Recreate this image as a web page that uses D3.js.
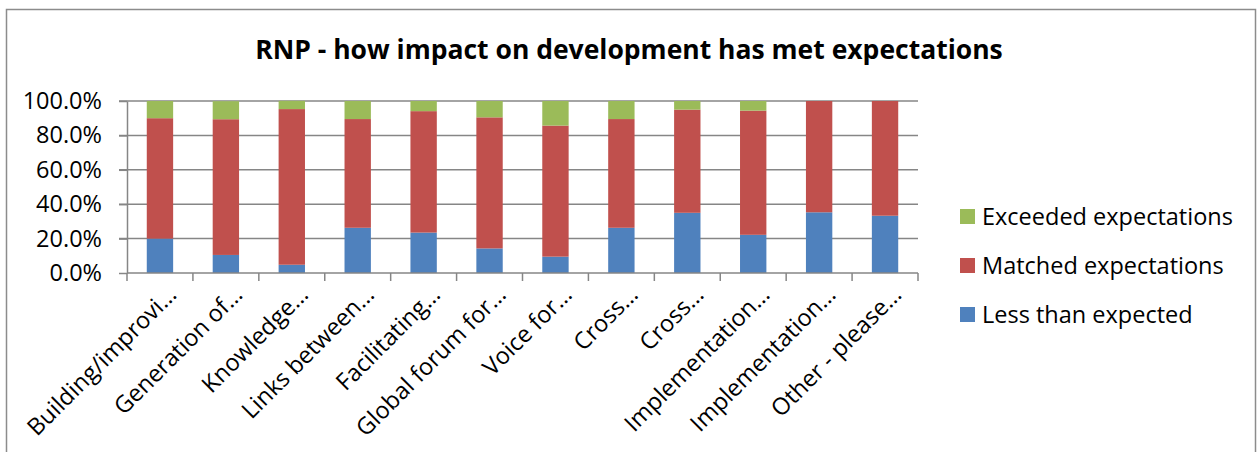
<!DOCTYPE html>
<html>
<head>
<meta charset="utf-8">
<script src="https://cdn.jsdelivr.net/npm/d3@7"></script>
<style>
  body { margin: 0; background: #fff; }
  svg { display: block; font-family: "Open Sans", sans-serif; }
</style>
</head>
<body>
<svg id="chart" width="1258" height="452"></svg>
<script>
const categories = [
  'Building/improvi…', 'Generation of…', 'Knowledge…', 'Links between…',
  'Facilitating…', 'Global forum for…', 'Voice for…', 'Cross…',
  'Cross…', 'Implementation…', 'Implementation…', 'Other - please…'
];
const lessThan = [20.0, 10.5, 4.8, 26.3, 23.5, 14.3, 9.5, 26.3, 35.0, 22.2, 35.3, 33.3];
const matched = [70.0, 78.9, 90.5, 63.2, 70.6, 76.2, 76.2, 63.2, 60.0, 72.2, 64.7, 66.7];
const exceeded = [10.0, 10.5, 4.8, 10.5, 5.9, 9.5, 14.3, 10.5, 5.0, 5.6, 0, 0];
const seriesNames = ['Less than expected', 'Matched expectations', 'Exceeded expectations'];
const yTicks = [0, 20, 40, 60, 80, 100];

const colors = ['#4f81bd', '#c0504d', '#9bbb59'];
const fontSize = '23.5px';
const svg = d3.select('#chart');

// outer chart border
svg.append('rect')
  .attr('x', 6.5).attr('y', 9.5)
  .attr('width', 1249).attr('height', 460)
  .attr('fill', 'none').attr('stroke', '#8c8c8c').attr('stroke-width', 1.5);

svg.append('text')
  .text('RNP - how impact on development has met expectations')
  .attr('x', 629).attr('y', 59)
  .attr('text-anchor', 'middle')
  .style('font-size', '26.5px').style('font-weight', 'bold').style('fill', '#000');

const x = d3.scaleBand().domain(categories.map((c, i) => i))
  .range([127, 918]).paddingInner(0.6).paddingOuter(0.3);
const y = d3.scaleLinear().domain([0, 100]).range([273, 101]);

// gridlines
svg.append('g').selectAll('line').data(yTicks.slice(1)).join('line')
  .attr('x1', 119).attr('x2', 918)
  .attr('y1', d => y(d)).attr('y2', d => y(d))
  .attr('stroke', '#868686').attr('stroke-width', 1.5);

// bars
const rows = categories.map((c, i) => ({ i, a: lessThan[i], b: matched[i], c: exceeded[i] }));
const stack = d3.stack().keys(['a', 'b', 'c'])(rows);
svg.append('g').selectAll('g').data(stack).join('g')
  .attr('fill', (d, k) => colors[k])
  .selectAll('rect').data(d => d).join('rect')
  .attr('x', d => x(d.data.i))
  .attr('width', x.bandwidth())
  .attr('y', d => y(d[1]))
  .attr('height', d => y(d[0]) - y(d[1]));

// y axis
const yAxis = svg.append('g').attr('transform', 'translate(127,0)')
  .call(d3.axisLeft(y).tickValues(yTicks).tickSize(8).tickSizeOuter(0)
    .tickFormat(d => d.toFixed(1) + '%'));
yAxis.selectAll('line, path').attr('stroke', '#868686').attr('stroke-width', 1.5);
yAxis.selectAll('text').attr('x', -25).style('font-size', fontSize)
  .style('font-family', '"Open Sans", sans-serif').attr('fill', '#000');

// x axis
const step = x.step();
const xBase = svg.append('g');
xBase.append('line').attr('x1', 127).attr('x2', 918).attr('y1', 273).attr('y2', 273)
  .attr('stroke', '#868686').attr('stroke-width', 1.5);
xBase.selectAll('.tk').data(d3.range(categories.length + 1)).join('line')
  .attr('x1', d => 127 + d * step).attr('x2', d => 127 + d * step)
  .attr('y1', 273).attr('y2', 281)
  .attr('stroke', '#868686').attr('stroke-width', 1.5);

xBase.selectAll('.lbl').data(categories).join('text')
  .text(d => d)
  .attr('transform', (d, i) => `translate(${x(i) + x.bandwidth() / 2 + 18},${296}) rotate(-45)`)
  .attr('text-anchor', 'end')
  .style('font-size', fontSize).attr('fill', '#000');

// legend
const legendNames = seriesNames.slice().reverse();
const legendColors = colors.slice().reverse();
const leg = svg.append('g').selectAll('g').data(legendNames).join('g')
  .attr('transform', (d, i) => `translate(960,${209 + i * 49})`);
leg.append('rect').attr('width', 15).attr('height', 15).attr('fill', (d, i) => legendColors[i]);
leg.append('text').text(d => d).attr('x', 22).attr('y', 15.5)
  .style('font-size', fontSize).attr('fill', '#000');
</script>
</body>
</html>
